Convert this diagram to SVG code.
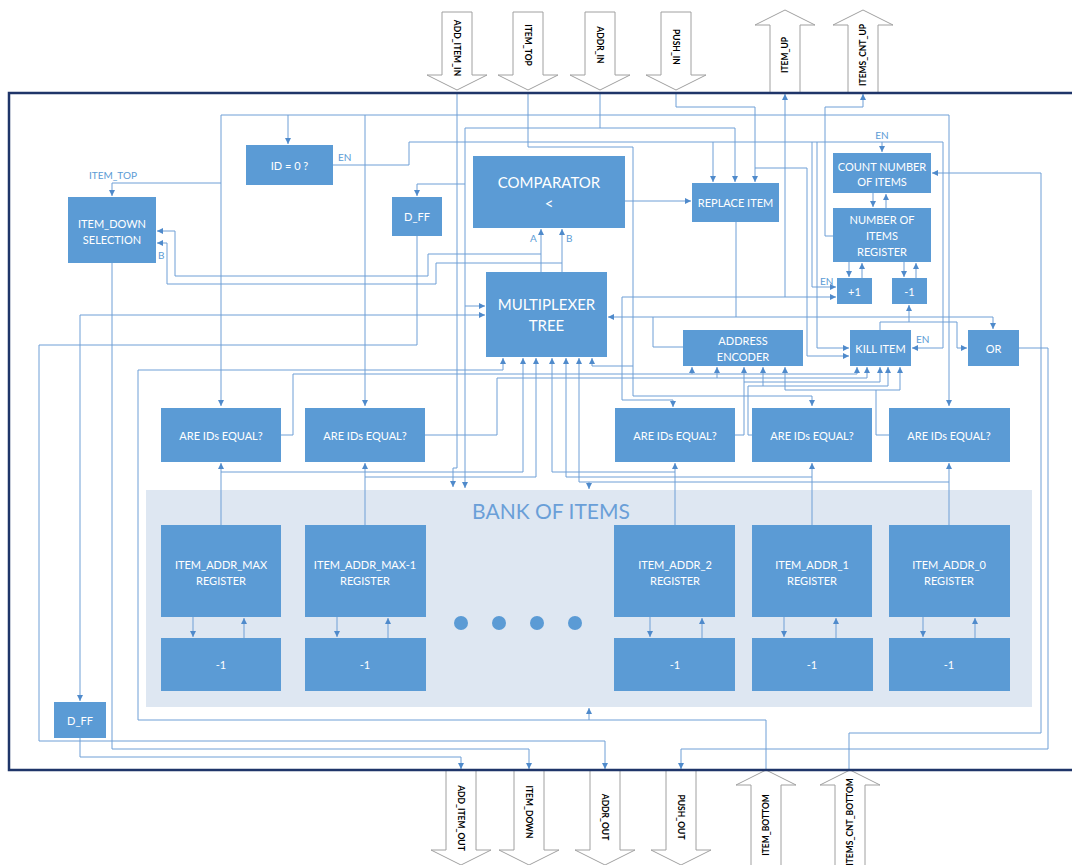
<svg xmlns="http://www.w3.org/2000/svg" width="1072" height="865" viewBox="0 0 1072 865">
<defs>
<style>
.b{fill:#5b9bd5}
.t{font-family:Lato,'Open Sans',sans-serif;fill:#fff;text-anchor:middle;dominant-baseline:central;font-size:11px}
.tl{font-family:Lato,'Open Sans',sans-serif;fill:#fff;text-anchor:middle;dominant-baseline:central;font-size:15px}
.w{fill:none;stroke:#6f9fd6;stroke-width:1}
.lab{font-family:Lato,'Open Sans',sans-serif;fill:#5b9bd5;font-size:10px}
.big{fill:#fff;stroke:#a0a0a0;stroke-width:1}
.bt{font-family:Lato,'Open Sans',sans-serif;font-weight:bold;font-size:8.5px;fill:#000;text-anchor:middle;dominant-baseline:central}
</style>
<marker id="ah" viewBox="0 0 6 6" refX="6" refY="3" markerWidth="6" markerHeight="6" markerUnits="userSpaceOnUse" orient="auto-start-reverse"><path d="M0,0L6,3L0,6z" fill="#4f8acb"/></marker>
</defs>
<rect width="1072" height="865" fill="#fff"/>

<g id="bank">
<rect x="146" y="490" width="886" height="217" fill="#dee7f2"/>
<text x="551" y="510" font-family="Lato,'Open Sans',sans-serif" font-size="21" fill="#6a9fd8" text-anchor="middle" dominant-baseline="central">BANK OF ITEMS</text>
<circle cx="461" cy="623" r="7" class="b"/><circle cx="499" cy="623" r="7" class="b"/><circle cx="537" cy="623" r="7" class="b"/><circle cx="575" cy="623" r="7" class="b"/>
</g>

<g id="connectors" class="w">
<path d="M457,93V468H453V487" marker-end="url(#ah)"/>
<path d="M221,406V115H949V406" marker-start="url(#ah)" marker-end="url(#ah)"/>
<path d="M288,115V144" marker-end="url(#ah)"/>
<path d="M365,115V406" marker-end="url(#ah)"/>
<path d="M528,93V147H633V396H812V406" marker-end="url(#ah)"/>
<path d="M600,93V128"/>
<path d="M465,488V128H735V182" marker-start="url(#ah)" marker-end="url(#ah)"/>
<path d="M465,306H485" marker-end="url(#ah)"/>
<path d="M465,184H417V196" marker-end="url(#ah)"/>
<path d="M676,93V107H755V182" marker-end="url(#ah)"/>
<path d="M755,168H807V356H849" marker-end="url(#ah)"/>
<path d="M333,165H409V142H943V348H912" marker-end="url(#ah)"/>
<path d="M713,142V182" marker-end="url(#ah)"/>
<path d="M817,142V348H849" marker-end="url(#ah)"/>
<path d="M812,142V287H836" marker-end="url(#ah)"/>
<path d="M882,142V152" marker-end="url(#ah)"/>
<path d="M833,236H825V107H863V94" marker-end="url(#ah)"/>
<path d="M785,297V94" marker-end="url(#ah)"/>
<path d="M622,297H836" marker-end="url(#ah)"/>
<path d="M622,297V400H673V407" marker-end="url(#ah)"/>
<path d="M625,201H691" marker-end="url(#ah)"/>
<path d="M541,272V229" marker-end="url(#ah)"/>
<path d="M562,272V229" marker-end="url(#ah)"/>
<path d="M541,254H428V276H175V231H157" marker-end="url(#ah)"/>
<path d="M562,263H436V284H167V243H157" marker-end="url(#ah)"/>
<path d="M736,222V317H608" marker-end="url(#ah)"/>
<path d="M736,317H993V329" marker-end="url(#ah)"/>
<path d="M683,347H653V317"/>
<path d="M880,330V322H909V305" marker-end="url(#ah)"/>
<path d="M909,322H957V348H967" marker-end="url(#ah)"/>
<path d="M221,183H112V196" marker-end="url(#ah)"/>
<path d="M112,263V749H529V769" marker-end="url(#ah)"/>
<path d="M417,236V345H39V741H605V769" marker-end="url(#ah)"/>
<path d="M80,701V315H485" marker-start="url(#ah)" marker-end="url(#ah)"/>
<path d="M80,737V757H461V769" marker-end="url(#ah)"/>
<path d="M766,770V720H138V370H503V358" marker-end="url(#ah)"/>
<path d="M589,720V708" marker-end="url(#ah)"/>
<path d="M849,770V733H1041V173H932" marker-end="url(#ah)"/>
<path d="M1019,348H1048V749H681V769" marker-end="url(#ah)"/>
<path d="M281,435H293V374H857V367" marker-end="url(#ah)"/>
<path d="M692,374V367" marker-end="url(#ah)"/>
<path d="M425,435H497V378H867V367" marker-end="url(#ah)"/>
<path d="M717,378V367" marker-end="url(#ah)"/>
<path d="M735,435H744V367" marker-end="url(#ah)"/>
<path d="M744,382H880V367" marker-end="url(#ah)"/>
<path d="M752,435H748V386H888V367" marker-end="url(#ah)"/>
<path d="M763,386V367" marker-end="url(#ah)"/>
<path d="M889,435H876V390H785V367" marker-end="url(#ah)"/>
<path d="M876,390H900V367" marker-end="url(#ah)"/>
<path d="M633,366H592V358" marker-end="url(#ah)"/>
<path d="M221,525V463" marker-end="url(#ah)"/>
<path d="M221,472H523V358" marker-end="url(#ah)"/>
<path d="M365,525V463" marker-end="url(#ah)"/>
<path d="M365,477H536V358" marker-end="url(#ah)"/>
<path d="M675,525V463" marker-end="url(#ah)"/>
<path d="M675,472H552V358" marker-end="url(#ah)"/>
<path d="M812,525V463" marker-end="url(#ah)"/>
<path d="M812,477H566V358" marker-end="url(#ah)"/>
<path d="M949,525V463" marker-end="url(#ah)"/>
<path d="M949,482H579V358" marker-end="url(#ah)"/>
<path d="M589,482V489" marker-end="url(#ah)"/>
<path d="M873,193V207" marker-end="url(#ah)"/>
<path d="M886,208V194" marker-end="url(#ah)"/>
<path d="M849,262V277" marker-end="url(#ah)"/>
<path d="M862,278V263" marker-end="url(#ah)"/>
<path d="M904,262V277" marker-end="url(#ah)"/>
<path d="M916,278V263" marker-end="url(#ah)"/>
<path d="M193,617V637" marker-end="url(#ah)"/><path d="M244,638V618" marker-end="url(#ah)"/>
<path d="M337,617V637" marker-end="url(#ah)"/><path d="M388,638V618" marker-end="url(#ah)"/>
<path d="M650,617V637" marker-end="url(#ah)"/><path d="M702,638V618" marker-end="url(#ah)"/>
<path d="M784,617V637" marker-end="url(#ah)"/><path d="M836,638V618" marker-end="url(#ah)"/>
<path d="M923,617V637" marker-end="url(#ah)"/><path d="M975,638V618" marker-end="url(#ah)"/>
</g>

<g id="labels" class="lab">
<text x="338" y="161">EN</text>
<text x="113" y="179" text-anchor="middle">ITEM_TOP</text>
<text x="158" y="259">B</text>
<text x="530" y="242">A</text>
<text x="566" y="242">B</text>
<text x="882" y="139" text-anchor="middle">EN</text>
<text x="820" y="285">EN</text>
<text x="916" y="343">EN</text>
</g>

<g id="id0"><rect class="b" x="246" y="145" width="87" height="40"/><text class="t" x="289.5" y="165">ID = 0 ?</text></g>
<g id="itemdownsel"><rect class="b" x="68" y="197" width="88" height="66"/><text class="t" x="112" y="223">ITEM_DOWN</text><text class="t" x="112" y="239">SELECTION</text></g>
<g id="dff1"><rect class="b" x="392" y="197" width="50" height="39"/><text class="t" x="417" y="216.5">D_FF</text></g>
<g id="comparator"><rect class="b" x="473" y="156" width="152" height="72"/><text class="tl" x="549" y="182">COMPARATOR</text><text class="tl" x="549" y="203">&lt;</text></g>
<g id="mux"><rect class="b" x="486" y="272" width="121" height="85"/><text class="tl" x="546.5" y="304">MULTIPLEXER</text><text class="tl" x="546.5" y="325">TREE</text></g>
<g id="replace"><rect class="b" x="692" y="183" width="87" height="39"/><text class="t" x="735.5" y="202.5">REPLACE ITEM</text></g>
<g id="count"><rect class="b" x="833" y="153" width="98" height="40"/><text class="t" x="882" y="166">COUNT NUMBER</text><text class="t" x="882" y="181">OF ITEMS</text></g>
<g id="numreg"><rect class="b" x="833" y="208" width="98" height="54"/><text class="t" x="882" y="219">NUMBER OF</text><text class="t" x="882" y="235">ITEMS</text><text class="t" x="882" y="251">REGISTER</text></g>
<g id="plus1"><rect class="b" x="837" y="278" width="35" height="26"/><text class="t" x="854.5" y="291">+1</text></g>
<g id="minus1"><rect class="b" x="892" y="278" width="35" height="26"/><text class="t" x="909.5" y="291">-1</text></g>
<g id="addrenc"><rect class="b" x="683" y="330" width="120" height="36"/><text class="t" x="743" y="340">ADDRESS</text><text class="t" x="743" y="356">ENCODER</text></g>
<g id="kill"><rect class="b" x="850" y="330" width="61" height="36"/><text class="t" x="880.5" y="348">KILL ITEM</text></g>
<g id="or"><rect class="b" x="968" y="330" width="51" height="36"/><text class="t" x="993.5" y="348">OR</text></g>

<g id="eq1"><rect class="b" x="161" y="408" width="120" height="54"/><text class="t" x="221" y="435">ARE IDs EQUAL?</text></g>
<g id="eq2"><rect class="b" x="305" y="408" width="120" height="54"/><text class="t" x="365" y="435">ARE IDs EQUAL?</text></g>
<g id="eq3"><rect class="b" x="615" y="408" width="120" height="54"/><text class="t" x="675" y="435">ARE IDs EQUAL?</text></g>
<g id="eq4"><rect class="b" x="752" y="408" width="120" height="54"/><text class="t" x="812" y="435">ARE IDs EQUAL?</text></g>
<g id="eq5"><rect class="b" x="889" y="408" width="121" height="54"/><text class="t" x="949" y="435">ARE IDs EQUAL?</text></g>

<g id="regmax"><rect class="b" x="161" y="525" width="120" height="92"/><text class="t" x="221" y="564">ITEM_ADDR_MAX</text><text class="t" x="221" y="580">REGISTER</text></g>
<g id="regmax1"><rect class="b" x="305" y="525" width="121" height="92"/><text class="t" x="365" y="564">ITEM_ADDR_MAX-1</text><text class="t" x="365" y="580">REGISTER</text></g>
<g id="reg2"><rect class="b" x="614" y="525" width="121" height="92"/><text class="t" x="675" y="564">ITEM_ADDR_2</text><text class="t" x="675" y="580">REGISTER</text></g>
<g id="reg1"><rect class="b" x="752" y="525" width="120" height="92"/><text class="t" x="812" y="564">ITEM_ADDR_1</text><text class="t" x="812" y="580">REGISTER</text></g>
<g id="reg0"><rect class="b" x="889" y="525" width="121" height="92"/><text class="t" x="949" y="564">ITEM_ADDR_0</text><text class="t" x="949" y="580">REGISTER</text></g>

<g id="dec1"><rect class="b" x="161" y="638" width="120" height="53"/><text class="t" x="221" y="664">-1</text></g>
<g id="dec2"><rect class="b" x="305" y="638" width="121" height="53"/><text class="t" x="365" y="664">-1</text></g>
<g id="dec3"><rect class="b" x="614" y="638" width="121" height="53"/><text class="t" x="675" y="664">-1</text></g>
<g id="dec4"><rect class="b" x="752" y="638" width="121" height="53"/><text class="t" x="812" y="664">-1</text></g>
<g id="dec5"><rect class="b" x="889" y="638" width="121" height="53"/><text class="t" x="949" y="664">-1</text></g>

<g id="dff2"><rect class="b" x="54" y="702" width="52" height="36"/><text class="t" x="80" y="720">D_FF</text></g>

<g id="io">
<polygon class="big" points="442,12 472,12 472,75 487,75 457,90 427,75 442,75"/>
<text class="bt" transform="translate(457,48) rotate(90)">ADD_ITEM_IN</text>
<polygon class="big" points="513,12 543,12 543,75 558,75 528,90 498,75 513,75"/>
<text class="bt" transform="translate(528,45) rotate(90)">ITEM_TOP</text>
<polygon class="big" points="585,12 615,12 615,75 630,75 600,90 570,75 585,75"/>
<text class="bt" transform="translate(600,45) rotate(90)">ADDR_IN</text>
<polygon class="big" points="661,12 691,12 691,75 706,75 676,90 646,75 661,75"/>
<text class="bt" transform="translate(676,47) rotate(90)">PUSH_IN</text>
<polygon class="big" points="785,10 815,25 800,25 800,93 770,93 770,25 755,25"/>
<text class="bt" transform="translate(785,55) rotate(-90)">ITEM_UP</text>
<polygon class="big" points="863,10 893,25 878,25 878,93 848,93 848,25 833,25"/>
<text class="bt" transform="translate(863,55) rotate(-90)">ITEMS_CNT_UP</text>
<polygon class="big" points="446,770 476,770 476,850 491,850 461,865 431,850 446,850"/>
<text class="bt" transform="translate(461,818) rotate(90)">ADD_ITEM_OUT</text>
<polygon class="big" points="514,770 544,770 544,850 559,850 529,865 499,850 514,850"/>
<text class="bt" transform="translate(529,812) rotate(90)">ITEM_DOWN</text>
<polygon class="big" points="590,770 620,770 620,850 635,850 605,865 575,850 590,850"/>
<text class="bt" transform="translate(605,817) rotate(90)">ADDR_OUT</text>
<polygon class="big" points="666,770 696,770 696,850 711,850 681,865 651,850 666,850"/>
<text class="bt" transform="translate(681,817) rotate(90)">PUSH_OUT</text>
<polygon class="big" points="766,770 796,785 781,785 781,870 751,870 751,785 736,785"/>
<text class="bt" transform="translate(766,825) rotate(-90)">ITEM_BOTTOM</text>
<polygon class="big" points="850,770 880,785 865,785 865,870 835,870 835,785 820,785"/>
<text class="bt" transform="translate(850,822) rotate(-90)">ITEMS_CNT_BOTTOM</text>
</g>

<rect id="frame" x="9" y="93" width="1090" height="677" fill="none" stroke="#1f3569" stroke-width="2.5"/>
</svg>
